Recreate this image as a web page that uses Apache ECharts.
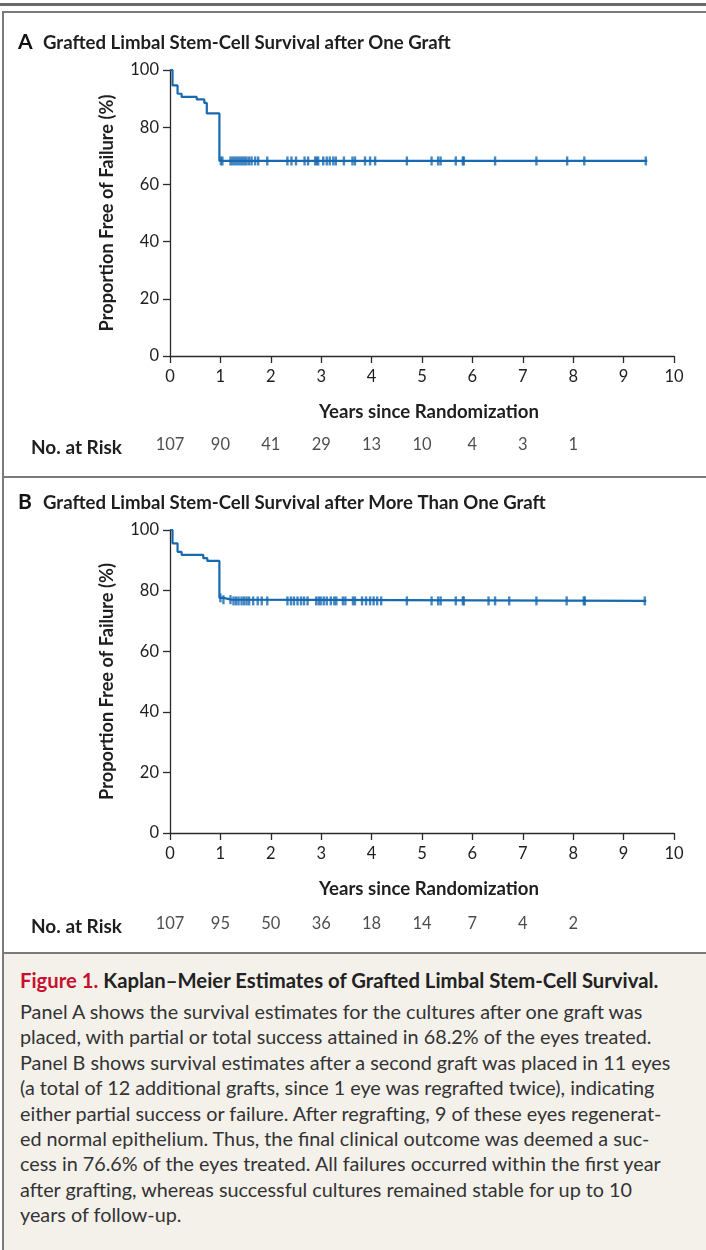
<!DOCTYPE html>
<html><head><meta charset="utf-8">
<script src="https://cdn.jsdelivr.net/npm/echarts@6/dist/echarts.min.js"></script>
<style>
html,body{margin:0;padding:0;background:#fff;width:706px;height:1250px;overflow:hidden;font-family:Lato,"Open Sans",sans-serif;}
#topbar{position:absolute;left:0;top:3px;width:706px;height:3px;background:#6a6a6a;}
#frameTop{position:absolute;left:2px;top:11px;width:704px;height:2px;background:#7a7a7a;}
#frameLeft{position:absolute;left:2px;top:11px;width:2px;height:1239px;background:#7a7a7a;}
#sep1{position:absolute;left:2px;top:476px;width:704px;height:2px;background:#7a7a7a;}
#sep2{position:absolute;left:2px;top:952px;width:704px;height:2px;background:#7a7a7a;}
#chart{position:absolute;left:0;top:0;width:706px;height:952px;}
#caption{position:absolute;left:4px;top:954px;width:702px;height:296px;background:#f4f1eb;}
#caption .hd{position:absolute;left:16px;top:14px;font-size:20.3px;font-weight:bold;color:#222;white-space:nowrap;}
#caption .hd span{color:#c8102e;}
#caption .bd{position:absolute;left:16px;top:45px;font-size:19.8px;line-height:25.4px;color:#333;white-space:nowrap;}
</style></head>
<body>
<div id="chart"></div>
<div id="topbar"></div><div id="frameTop"></div><div id="frameLeft"></div><div id="sep1"></div><div id="sep2"></div>
<div id="caption">
<div class="hd"><span>Figure 1.</span> Kaplan–Meier Estimates of Grafted Limbal Stem-Cell Survival.</div>
<div class="bd">Panel A shows the survival estimates for the cultures after one graft was<br>placed, with partial or total success attained in 68.2% of the eyes treated.<br>Panel B shows survival estimates after a second graft was placed in 11 eyes<br>(a total of 12 additional grafts, since 1 eye was regrafted twice), indicating<br>either partial success or failure. After regrafting, 9 of these eyes regenerat-<br>ed normal epithelium. Thus, the final clinical outcome was deemed a suc-<br>cess in 76.6% of the eyes treated. All failures occurred within the first year<br>after grafting, whereas successful cultures remained stable for up to 10<br>years of follow-up.</div>
</div>
<script>
// ---- data ----
const timesA = [0, 0.05, 0.15, 0.23, 0.53, 0.68, 0.73, 0.98, 9.47];
const survA  = [100, 94.6, 91.7, 90.6, 89.7, 88.5, 84.8, 68.2, 68.2];
const censorA = [1.01,1.04,1.20,1.24,1.28,1.32,1.36,1.40,1.44,1.48,1.52,1.57,1.62,1.69,1.75,1.93,2.33,2.41,2.50,2.67,2.74,2.88,2.91,2.94,3.04,3.11,3.17,3.24,3.29,3.45,3.62,3.67,3.87,3.97,4.07,4.70,5.19,5.32,5.37,5.67,5.81,5.83,6.45,7.27,7.88,8.22,9.44];
const timesB = [0, 0.05, 0.15, 0.23, 0.66, 0.74, 0.98, 1.06, 1.22, 9.45];
const survB  = [100, 95.6, 92.8, 91.8, 90.7, 89.8, 77.6, 77.0, 76.6, 76.6];
const censorB = [1.00,1.06,1.20,1.26,1.31,1.36,1.42,1.47,1.52,1.57,1.65,1.74,1.82,1.93,2.33,2.40,2.46,2.53,2.60,2.66,2.73,2.90,2.95,2.99,3.05,3.11,3.19,3.26,3.30,3.43,3.48,3.63,3.67,3.81,3.89,3.97,4.04,4.11,4.19,4.70,5.19,5.32,5.37,5.67,5.81,5.83,6.32,6.45,6.73,7.27,7.87,8.21,8.23,9.42];
const riskYears = [0,1,2,3,4,5,6,7,8];
const riskA = [107, 90, 41, 29, 13, 10, 4, 3, 1];
const riskB = [107, 95, 50, 36, 18, 14, 7, 4, 2];

// ---- helpers ----
function stepVal(times, vals, t){ let v = vals[0]; for(let i=0;i<times.length;i++){ if(times[i] <= t + 1e-9) v = vals[i]; } return v; }
const BLUE = '#1769b0';
const AX = '#2a2a2a';
const TXT = '#1e1e1e';
const FONT = 'Lato';

function xAxisCfg(gi){
  return {gridIndex:gi, type:'value', min:0, max:10, interval:1,
    axisLine:{show:true, onZero:false, lineStyle:{color:AX, width:1.3}},
    axisTick:{show:true, length:7, lineStyle:{color:AX, width:1.3}},
    axisLabel:{show:true, margin:12, color:TXT, fontSize:16.5, fontFamily:FONT},
    splitLine:{show:false},
    name:'Years since Randomization', nameLocation:'middle', nameGap:46,
    nameTextStyle:{fontWeight:'bold', fontSize:18.6, color:TXT, fontFamily:FONT, padding:[0,0,0,14]}};
}
function yAxisCfg(gi){
  return {gridIndex:gi, type:'value', min:0, max:100, interval:20,
    axisLine:{show:true, lineStyle:{color:AX, width:1.3}},
    axisTick:{show:true, length:7, lineStyle:{color:AX, width:1.3}},
    axisLabel:{margin:11, color:TXT, fontSize:16.5, fontFamily:FONT},
    splitLine:{show:false},
    name:'Proportion Free of Failure (%)', nameLocation:'middle', nameGap:54,
    nameTextStyle:{fontWeight:'bold', fontSize:18.2, color:TXT, fontFamily:FONT}};
}
function riskAxes(gi){
  return [{gridIndex:gi, type:'value', min:0, max:10, show:false},
          {gridIndex:gi, type:'value', min:0, max:1, show:false}];
}
function curve(xi, times, vals){
  return {type:'line', xAxisIndex:xi, yAxisIndex:xi, step:'end', symbol:'none',
    lineStyle:{color:BLUE, width:2.2}, data: times.map((t,i)=>[t, vals[i]]), z:3, silent:true};
}
function censors(xi, ctimes, times, vals){
  return {type:'scatter', xAxisIndex:xi, yAxisIndex:xi, symbol:'rect', symbolSize:[2.4,9],
    itemStyle:{color:BLUE}, data: ctimes.map(t=>[t, stepVal(times, vals, t)]), z:4, silent:true};
}
function risk(ai, nums){
  return {type:'scatter', xAxisIndex:ai, yAxisIndex:ai, symbolSize:0,
    data: riskYears.map((y,i)=>[y, 0.5, nums[i]]),
    label:{show:true, position:'inside', formatter:p=>String(p.value[2]), color:TXT, fontSize:16.5, fontFamily:FONT}, silent:true};
}
function panelTitle(letter, text, top){
  return {text:'{a|'+letter+'}{t|'+text+'}', left:13, top:top,
    textStyle:{rich:{a:{fontSize:21, fontWeight:'bold', color:'#111', fontFamily:FONT, width:25}, t:{fontSize:18.6, fontWeight:'bold', color:TXT, fontFamily:FONT}}}};
}

const chart = echarts.init(document.getElementById('chart'), null, {renderer:'canvas'});
const ra = riskAxes(2), rb = riskAxes(3);
chart.setOption({
  animation:false,
  backgroundColor:'transparent',
  title:[
    panelTitle('A', 'Grafted Limbal Stem-Cell Survival after One Graft', 27),
    panelTitle('B', 'Grafted Limbal Stem-Cell Survival after More Than One Graft', 487),
    {text:'No. at Risk', left:26, top:433, textStyle:{fontSize:19, fontWeight:'bold', color:TXT, fontFamily:FONT}},
    {text:'No. at Risk', left:26, top:912, textStyle:{fontSize:19, fontWeight:'bold', color:TXT, fontFamily:FONT}}
  ],
  grid:[
    {left:170, top:70, width:504, height:286},
    {left:170, top:530, width:504, height:303},
    {left:170, top:435, width:504, height:20},
    {left:170, top:914, width:504, height:20}
  ],
  xAxis:[xAxisCfg(0), xAxisCfg(1), ra[0], rb[0]],
  yAxis:[yAxisCfg(0), yAxisCfg(1), ra[1], rb[1]],
  series:[
    curve(0, timesA, survA), censors(0, censorA, timesA, survA),
    curve(1, timesB, survB), censors(1, censorB, timesB, survB),
    risk(2, riskA), risk(3, riskB)
  ]
});
</script>
</body></html>
